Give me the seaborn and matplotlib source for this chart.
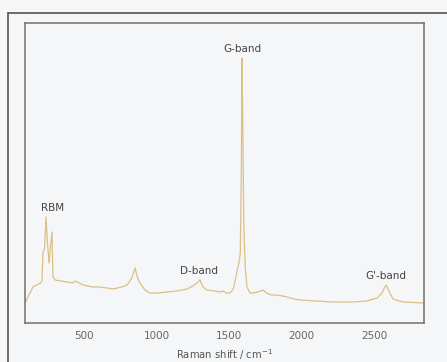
import matplotlib
matplotlib.use("Agg")
import matplotlib.pyplot as plt
from matplotlib.lines import Line2D
import pandas as pd
import seaborn as sns

# Raman spectrum of single-walled carbon nanotubes (arbitrary intensity units)
raman_shift = [93, 148, 200, 210, 217, 228, 238, 248, 259, 268, 279, 286, 300, 340,
               383, 420, 440, 493, 560, 600, 659, 700, 760, 797, 830, 852, 870, 886,
               920, 955, 1010, 1072, 1140, 1210, 1250, 1280, 1300, 1320, 1348, 1400,
               1438, 1460, 1480, 1507, 1530, 1545, 1560, 1569, 1578, 1585, 1590, 1595,
               1602, 1612, 1624, 1645, 1666, 1700, 1734, 1760, 1790, 1831, 1870, 1900,
               1950, 1990, 2100, 2217, 2350, 2450, 2521, 2555, 2575, 2585, 2600, 2631,
               2700, 2845]
intensity = [20, 36, 40, 42, 70, 75, 106, 80, 60, 75, 91, 46, 43, 42,
             41, 40, 42, 38, 36, 36, 35, 34, 36, 38, 45, 55, 45, 40,
             33, 30, 30, 31, 32, 34, 37, 40, 43, 36, 33, 32,
             31, 32, 30, 30, 34, 44, 55, 60, 70, 150, 265, 200,
             100, 55, 36, 30, 30, 31, 33, 30, 28, 28, 27, 26,
             24, 23, 22, 21, 21, 22, 25, 30, 36, 38, 33, 24,
             21, 20]

band_labels = ["RBM", "D-band", "G-band", "G'-band"]
band_label_x = [286, 1293, 1590, 2583]
band_label_y = [115, 52, 274, 47]

x_ticks = [500, 1000, 1500, 2000, 2500]

df = pd.DataFrame({"shift": raman_shift, "intensity": intensity})

sns.set_style("white")
bg = "#f5f6f8"
fig = plt.figure(figsize=(4.47, 3.62), dpi=100, facecolor=bg)
ax = fig.add_axes([25 / 447, 1 - 323 / 362, 399 / 447, 300 / 362])
ax.set_facecolor(bg)

sns.lineplot(data=df, x="shift", y="intensity", ax=ax, color="#dcbf85",
             linewidth=0.9)

ax.set_xlim(93, 2845)
ax.set_ylim(0, 300)
ax.set_xticks(x_ticks)
ax.set_xticklabels([str(t) for t in x_ticks], fontsize=7.5, color="#666666")
ax.set_yticks([])
ax.tick_params(axis="x", direction="inout", length=5, width=0.9, color="#777777", pad=3)
ax.set_xlabel("Raman shift / cm$^{-1}$", fontsize=7.2, color="#555555", labelpad=5)
ax.set_ylabel("")

for side in ["left", "right", "top", "bottom"]:
    ax.spines[side].set_color("#707070")
    ax.spines[side].set_linewidth(1.1)

for lab, lx, ly in zip(band_labels, band_label_x, band_label_y):
    ax.text(lx, ly, lab, ha="center", va="center", fontsize=7.5, color="#444444")

# outer frame around the panel
fig.add_artist(Line2D([8 / 447, 8 / 447], [0, 1 - 13 / 362], color="#555555", lw=1.2))
fig.add_artist(Line2D([8 / 447, 1], [1 - 13 / 362, 1 - 13 / 362], color="#555555", lw=1.2))

fig.savefig("out.png", dpi=100, facecolor=bg)
